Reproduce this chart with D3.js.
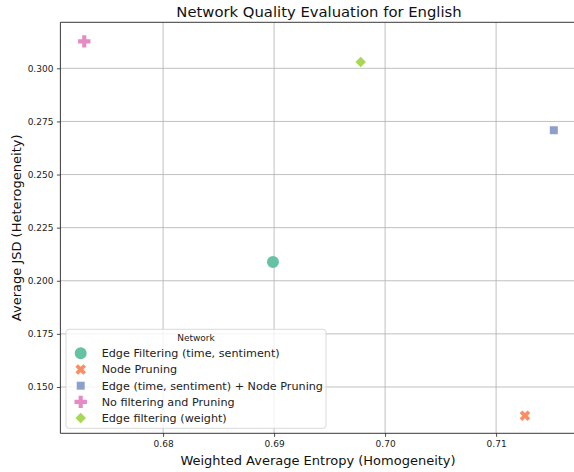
<!DOCTYPE html>
<html lang="en">
<head>
  <meta charset="UTF-8">
  <title>Network Quality Evaluation for English</title>
  <script src="https://d3js.org/d3.v7.min.js"></script>
  <style>
    body { margin: 0; padding: 0; background: #fff; }
    svg { display: block; font-family: "DejaVu Sans", sans-serif; }
    .grid line { stroke: #b0b0b0; stroke-width: 0.8px; }
    .tick text { fill: #222; font-size: 9px; }
  </style>
</head>
<body>
<div id="chart"></div>
<script>
  const networks = [
    "Edge Filtering (time, sentiment)",
    "Node Pruning",
    "Edge (time, sentiment) + Node Pruning",
    "No filtering and Pruning",
    "Edge filtering (weight)"
  ];
  const entropy = [0.6899, 0.7126, 0.7152, 0.6729, 0.6978];
  const jsd = [0.2088, 0.1365, 0.2709, 0.3127, 0.3030];
  const colors = ["#66c2a5", "#fc8d62", "#8da0cb", "#e78ac3", "#a6d854"];
  const xTicks = [0.68, 0.69, 0.70, 0.71];
  const yTicks = [0.150, 0.175, 0.200, 0.225, 0.250, 0.275, 0.300];

  const width = 574, height = 472;
  const plot = { left: 60.4, top: 22.3, right: 596, bottom: 433.3 };

  const x = d3.scaleLinear().domain([0.67075, 0.7190]).range([plot.left, plot.right]);
  const y = d3.scaleLinear().domain([0.1282, 0.32166]).range([plot.bottom, plot.top]);

  // marker shapes like seaborn defaults: o, X, square, P, diamond
  const markers = [
    { type: d3.symbolCircle, size: 113, rot: 0 },
    { type: d3.symbolCross, size: 70, rot: 45 },
    { type: d3.symbolSquare, size: 64, rot: 0 },
    { type: d3.symbolCross, size: 85, rot: 0 },
    { type: d3.symbolSquare, size: 55, rot: 45 }
  ];

  const svg = d3.select("#chart").append("svg")
    .attr("width", width)
    .attr("height", height);

  svg.append("defs").append("clipPath").attr("id", "clip")
    .append("rect")
    .attr("x", plot.left).attr("y", plot.top)
    .attr("width", plot.right - plot.left).attr("height", plot.bottom - plot.top);

  // grid
  const grid = svg.append("g").attr("class", "grid");
  grid.selectAll(".gx").data(xTicks).enter().append("line")
    .attr("x1", d => x(d)).attr("x2", d => x(d))
    .attr("y1", plot.top).attr("y2", plot.bottom);
  grid.selectAll(".gy").data(yTicks).enter().append("line")
    .attr("x1", plot.left).attr("x2", plot.right)
    .attr("y1", d => y(d)).attr("y2", d => y(d));

  // axes
  const xAxis = svg.append("g")
    .attr("transform", `translate(0,${plot.bottom})`)
    .call(d3.axisBottom(x).tickValues(xTicks).tickFormat(d3.format(".2f")).tickSize(3.5).tickPadding(3.5));
  const yAxis = svg.append("g")
    .attr("transform", `translate(${plot.left},0)`)
    .call(d3.axisLeft(y).tickValues(yTicks).tickFormat(d3.format(".3f")).tickSize(3.5).tickPadding(3.5));
  [xAxis, yAxis].forEach(a => {
    a.select(".domain").remove();
    a.selectAll(".tick line").attr("stroke", "#222").attr("stroke-width", 0.8);
    a.selectAll("text").attr("font-family", "DejaVu Sans, sans-serif");
  });

  // spines (right spine falls outside the picture)
  const spine = svg.append("g").attr("stroke", "#222").attr("stroke-width", 0.9);
  spine.append("line").attr("x1", plot.left).attr("x2", plot.left).attr("y1", plot.top).attr("y2", plot.bottom);
  spine.append("line").attr("x1", plot.left).attr("x2", plot.right).attr("y1", plot.bottom).attr("y2", plot.bottom);
  spine.append("line").attr("x1", plot.left).attr("x2", plot.right).attr("y1", plot.top).attr("y2", plot.top);

  // points
  svg.append("g").attr("clip-path", "url(#clip)")
    .selectAll("path").data(networks).enter().append("path")
    .attr("transform", (d, i) => `translate(${x(entropy[i])},${y(jsd[i])}) rotate(${markers[i].rot})`)
    .attr("d", (d, i) => d3.symbol().type(markers[i].type).size(markers[i].size)())
    .attr("fill", (d, i) => colors[i]);

  // title and labels
  svg.append("text")
    .attr("x", 319).attr("y", 17)
    .attr("text-anchor", "middle")
    .attr("font-size", 14.8).attr("fill", "#111")
    .text("Network Quality Evaluation for English");
  svg.append("text")
    .attr("x", 318).attr("y", 465)
    .attr("text-anchor", "middle")
    .attr("font-size", 13).attr("fill", "#111")
    .text("Weighted Average Entropy (Homogeneity)");
  svg.append("text")
    .attr("transform", `translate(21,${(plot.top + plot.bottom) / 2}) rotate(-90)`)
    .attr("text-anchor", "middle")
    .attr("font-size", 13).attr("fill", "#111")
    .text("Average JSD (Heterogeneity)");

  // legend
  const lg = svg.append("g").attr("transform", "translate(66,329.3)");
  lg.append("rect")
    .attr("width", 260).attr("height", 99)
    .attr("rx", 3)
    .attr("fill", "rgba(255,255,255,0.8)")
    .attr("stroke", "#d0d0d0").attr("stroke-width", 0.8);
  lg.append("text")
    .attr("x", 130).attr("y", 12)
    .attr("text-anchor", "middle")
    .attr("font-size", 9).attr("fill", "#222")
    .text("Network");
  const items = lg.selectAll(".item").data(networks).enter().append("g")
    .attr("transform", (d, i) => `translate(0,${24 + i * 16.2})`);
  items.append("path")
    .attr("transform", (d, i) => `translate(14.7,0) rotate(${markers[i].rot})`)
    .attr("d", (d, i) => d3.symbol().type(markers[i].type).size(markers[i].size)())
    .attr("fill", (d, i) => colors[i]);
  items.append("text")
    .attr("x", 35.7).attr("dy", "0.35em")
    .attr("font-size", 11.2).attr("fill", "#222")
    .text(d => d);
</script>
</body>
</html>
